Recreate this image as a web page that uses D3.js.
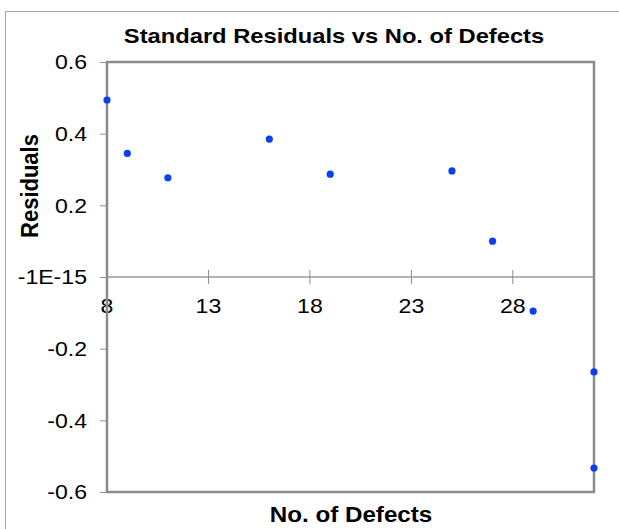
<!DOCTYPE html>
<html>
<head>
<meta charset="utf-8">
<script src="https://cdn.jsdelivr.net/npm/d3@7"></script>
<style>
  body { margin: 0; background: #fff; }
  text { font-family: "Liberation Sans", Arial, sans-serif; fill: #000; }
</style>
</head>
<body>
<div id="chart"></div>
<script>
// data
var defects   = [8, 9, 11, 16, 19, 25, 27, 29, 32, 32];
var residuals = [0.494, 0.345, 0.277, 0.385, 0.287, 0.296, 0.100, -0.095, -0.265, -0.533];

var xTicks = [8, 13, 18, 23, 28];
var yTicks = [-0.6, -0.4, -0.2, 0, 0.2, 0.4, 0.6];
var yTickLabels = ["-0.6", "-0.4", "-0.2", "-1E-15", "0.2", "0.4", "0.6"];

var width = 619, height = 529;
var stretch = 1.1; // picture text looks a bit wide

var svg = d3.select("#chart").append("svg")
    .attr("width", width)
    .attr("height", height);

// outer chart frame (runs off the right / bottom)
svg.append("rect")
    .attr("x", 5.5).attr("y", 11.5)
    .attr("width", 700).attr("height", 600)
    .attr("fill", "none")
    .attr("stroke", "#a6a6a6")
    .attr("stroke-width", 1);

var x = d3.scaleLinear().domain([8, 32]).range([107, 594]);
var y = d3.scaleLinear().domain([-0.6, 0.6]).range([492, 62]);

// y axis ticks + labels
var yAxis = d3.axisLeft(y)
    .tickValues(yTicks)
    .tickSize(7)
    .tickPadding(13)
    .tickFormat(function(d, i) { return yTickLabels[i]; });

var gy = svg.append("g")
    .attr("transform", "translate(" + x.range()[0] + ",0)")
    .call(yAxis);
gy.select(".domain").remove();
gy.selectAll(".tick line").attr("stroke", "#8c8c8c");
gy.selectAll(".tick text")
    .style("font-size", "21px")
    .attr("transform", "scale(" + stretch + ",1)")
    .attr("x", -20 / stretch);

// x axis through zero
svg.append("line")
    .attr("x1", x.range()[0]).attr("x2", x.range()[1])
    .attr("y1", y(0)).attr("y2", y(0))
    .attr("stroke", "#9a9a9a")
    .attr("stroke-width", 1.5);

var gx = svg.append("g");
gx.selectAll("line.xt")
    .data(xTicks)
    .enter().append("line")
    .attr("class", "xt")
    .attr("x1", function(d) { return x(d); })
    .attr("x2", function(d) { return x(d); })
    .attr("y1", y(0) - 7)
    .attr("y2", y(0) + 7)
    .attr("stroke", "#8c8c8c");
gx.selectAll("text")
    .data(xTicks)
    .enter().append("text")
    .attr("transform", function(d) {
      return "translate(" + x(d) + "," + (y(0) + 36) + ") scale(" + stretch + ",1)";
    })
    .attr("text-anchor", "middle")
    .style("font-size", "21px")
    .text(function(d) { return d; });

// plot box
svg.append("rect")
    .attr("x", x.range()[0]).attr("y", y.range()[1])
    .attr("width", x.range()[1] - x.range()[0])
    .attr("height", y.range()[0] - y.range()[1])
    .attr("fill", "none")
    .attr("stroke", "#8c8c8c")
    .attr("stroke-width", 2.5);

// points
svg.selectAll("circle.pt")
    .data(defects)
    .enter().append("circle")
    .attr("class", "pt")
    .attr("cx", function(d) { return x(d); })
    .attr("cy", function(d, i) { return y(residuals[i]); })
    .attr("r", 3.6)
    .attr("fill", "#0b40f2");

// titles
svg.append("text")
    .attr("transform", "translate(334,43) scale(1.13,1)")
    .attr("text-anchor", "middle")
    .style("font-size", "21px")
    .style("font-weight", "bold")
    .text("Standard Residuals vs No. of Defects");

svg.append("text")
    .attr("transform", "translate(351,522) scale(" + stretch + ",1)")
    .attr("text-anchor", "middle")
    .style("font-size", "22px")
    .style("font-weight", "bold")
    .text("No. of Defects");

svg.append("text")
    .attr("transform", "translate(38,186) scale(" + stretch + ",1) rotate(-90)")
    .attr("text-anchor", "middle")
    .style("font-size", "22px")
    .style("font-weight", "bold")
    .text("Residuals");
</script>
</body>
</html>
